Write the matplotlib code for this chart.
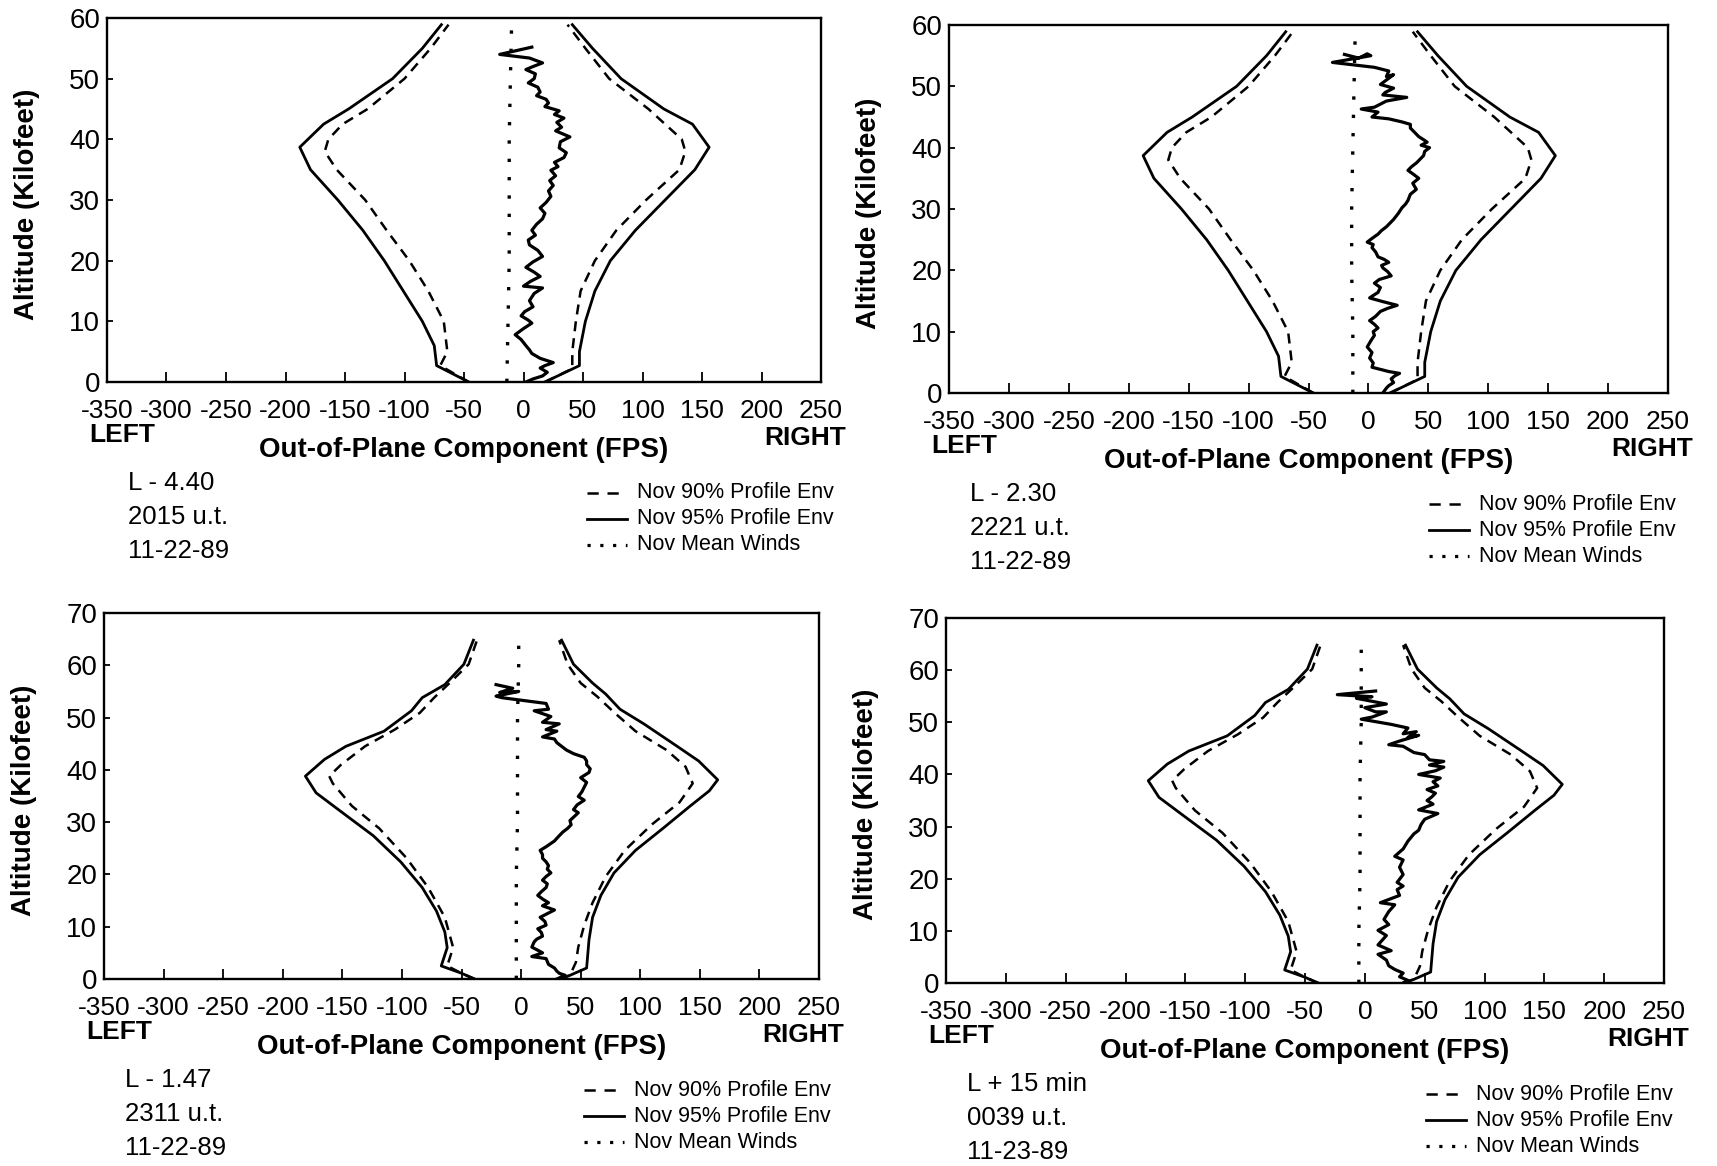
import matplotlib.pyplot as plt
from matplotlib.lines import Line2D

W, H = 1717, 1166
FONT = ['Liberation Sans', 'DejaVu Sans']

# November envelopes, 60 kft panels (altitude kft, wind fps)
env60_sl_alt = [0, 2.7, 6, 10, 15, 20, 25, 30, 35, 38.7, 42.5, 45, 50, 55, 58.9]
env60_sl_x = [-46, -73, -75, -85, -101, -117, -135, -156, -179, -188, -168, -147, -110, -85, -69]
env60_dl_alt = [0, 2.7, 5, 10, 15, 20, 25, 30, 35, 38, 40, 42.5, 45, 50, 55, 58.9]
env60_dl_x = [-46, -70, -64, -67, -80, -96, -115, -133, -157, -167, -164, -152, -131, -100, -78, -63]
env60_sr_alt = [0, 2.7, 5, 10, 15, 20, 25, 30, 35, 38.7, 42.5, 45, 50, 55, 58.9]
env60_sr_x = [18, 47, 47, 52, 60, 73, 94, 119, 144, 156, 142, 118, 82, 58, 41]
env60_dr_alt = [0, 2.2, 5, 10, 15, 20, 25, 30, 35, 38, 40, 45, 50, 55, 58.9]
env60_dr_x = [18, 41, 41, 44, 48, 60, 78, 103, 131, 136, 133, 105, 72, 52, 37]

# November envelopes, 70 kft panels
env70_sl_alt = [0, 1.1, 2.5, 6, 9, 13, 17.5, 22.4, 27.4, 32, 35.6, 38.8, 42, 44.5, 47.4, 51.3, 53.8, 56.3, 60.2, 64.8]
env70_sl_x = [-39, -50, -67, -62, -64, -71, -83, -101, -124, -151, -172, -181, -165, -147, -115, -92, -83, -64, -48, -40]
env70_dl_alt = [0, 1.1, 2.5, 6, 11.8, 17.5, 23.1, 28.8, 33.1, 37.4, 38.8, 41, 44.5, 47.7, 50.9, 53.8, 56.6, 60.2, 64.8]
env70_dl_x = [-39, -50, -62, -57, -64, -78, -96, -119, -142, -158, -161, -151, -131, -106, -85, -73, -60, -44, -37]
env70_sr_alt = [0, 0.7, 2.1, 7.5, 11.8, 16, 20.3, 24.6, 28.8, 33.1, 36, 38.1, 41.7, 44.5, 48.8, 51.6, 54.5, 56.6, 60.2, 64.8]
env70_sr_x = [32, 41, 55, 57, 60, 67, 78, 96, 119, 142, 158, 165, 149, 131, 103, 83, 71, 60, 44, 34]
env70_dr_alt = [0, 0.7, 3.2, 6.1, 10.3, 14.6, 19.6, 24.6, 29.6, 33.8, 37.4, 40.6, 43.8, 47.4, 51, 54, 56.6, 60.2, 64.8]
env70_dr_x = [32, 41, 46, 48, 53, 60, 71, 87, 110, 133, 144, 138, 122, 96, 78, 64, 50, 39, 32]

# November mean winds
mean60_alt = [0, 10, 20, 30, 40, 50, 58.9]
mean_tl_x = [-14, -13, -12, -12, -12, -11, -10]
mean_tr_x = [-13, -13, -14, -14, -13, -12, -11]
mean70_alt = [0, 10, 20, 30, 40, 50, 60, 65]
mean_bl_x = [-4, -4, -4, -3, -3, -3, -2, -2]
mean_br_x = [-5, -5, -4, -4, -4, -3, -3, -3]

# measured profiles
tl_alt = [55.2, 54.0, 53.4, 52.6, 52.0, 51.5, 50.8, 50.0, 49.3, 48.6, 47.8, 47.2, 46.6, 46.0, 45.4,
          44.7, 44.1, 43.5, 42.8, 42.0, 41.4, 40.4, 39.6, 38.6, 37.8, 37.0, 36.2, 35.5, 34.9, 34.0,
          33.2, 32.4, 31.5, 30.6, 29.6, 28.7, 27.8, 26.9, 26.0, 25.0, 24.2, 23.4, 22.6, 21.7, 20.7,
          19.8, 18.9, 18.1, 17.4, 16.6, 15.8, 15.5, 14.6, 13.4, 12.4, 11.6, 10.9, 10.2, 9.7, 8.8,
          7.8, 7.0, 6.0, 5.3, 4.7, 3.9, 3.2, 2.7, 2.3, 1.6, 1.0, 0.5, 0]
tl_x = [7, -20, 5, 16, 8, 2, 10, 9, 4, 12, 14, 11, 19, 21, 18,
        30, 26, 34, 28, 32, 27, 39, 31, 30, 36, 34, 26, 29, 23, 27,
        22, 25, 21, 23, 19, 14, 18, 16, 11, 7, 10, 4, 5, 12, 16,
        8, 2, 9, 14, 6, 0, 16, 9, 5, 8, 1, -2, 4, 7, 0,
        -7, -2, 2, 5, 7, 14, 25, 18, 14, 20, 16, 8, 2]

tr_alt = [55.2, 54.6, 55.3, 55.0, 53.9, 53.1, 52.5, 51.6, 51.9, 50.3, 49.7, 49.0, 48.6, 48.2, 47.6,
          46.6, 46.3, 45.8, 45.0, 44.7, 44.2, 43.8, 43.2, 42.6, 41.8, 41.3, 40.9, 40.4, 40.0, 39.4,
          38.7, 38.1, 37.5, 36.9, 36.3, 35.6, 35.0, 34.2, 33.2, 32.4, 31.4, 30.8, 30.2, 29.3, 28.3,
          27.7, 27.1, 26.5, 25.9, 25.2, 24.6, 24.2, 23.7, 23.0, 22.2, 21.8, 21.3, 20.8, 20.4, 19.8,
          19.1, 18.5, 17.9, 17.2, 16.4, 15.9, 15.5, 14.9, 14.3, 13.8, 13.3, 12.5, 11.8, 11.2, 10.6,
          10.0, 9.4, 8.5, 7.5, 6.6, 5.7, 4.9, 4.2, 3.5, 3.2, 2.8, 2.3, 1.7, 1.2, 0.8, 0]
tr_x = [-20, -8, -1, 2, -30, 5, 17, 15, 21, 10, 21, 14, 12, 32, 15,
        5, -6, 8, 3, 17, 28, 35, 35, 38, 42, 46, 49, 44, 51, 47,
        46, 43, 40, 36, 33, 38, 42, 37, 40, 35, 33, 31, 28, 25, 21,
        18, 15, 11, 8, 3, -1, 4, 3, 6, 8, 13, 17, 11, 12, 16,
        19, 9, 5, 10, 8, 4, 1, 12, 24, 16, 10, 6, 1, 5, 8,
        4, 5, 2, -1, 3, 1, 4, 3, 17, 26, 22, 19, 21, 17, 15, 12]

bl_alt = [56.3, 55.6, 54.8, 55.0, 54.1, 53.8, 52.7, 51.6, 51.3, 50.2, 49.1, 48.8, 47.7, 47.4, 46.3,
          45.9, 45.2, 44.5, 43.8, 43.1, 42.4, 41.7, 41.0, 40.2, 39.5, 38.5, 37.6, 36.7, 35.8, 34.9,
          34.2, 33.3, 32.4, 31.8, 30.3, 29.5, 28.8, 28.1, 27.4, 26.4, 25.3, 24.6, 23.8, 23.1, 22.4,
          21.7, 21.0, 20.3, 19.6, 18.9, 18.2, 17.5, 16.7, 16.0, 15.3, 14.6, 14.0, 13.2, 12.5, 11.8,
          11.0, 10.3, 9.6, 8.9, 8.2, 7.6, 7.1, 6.1, 5.5, 5.0, 4.3, 3.9, 2.8, 2.1, 1.5, 1.1, 0.7, 0]
bl_x = [-21, -7, -18, -2, -21, -16, 21, 23, 11, 25, 18, 32, 21, 30, 18,
        28, 30, 34, 38, 44, 53, 55, 55, 58, 57, 50, 55, 53, 51, 48,
        53, 47, 44, 48, 41, 42, 39, 35, 32, 28, 21, 16, 18, 18, 21,
        23, 22, 25, 21, 18, 22, 21, 17, 14, 18, 23, 18, 28, 22, 16,
        20, 21, 14, 17, 18, 13, 11, 9, 14, 18, 9, 21, 23, 28, 30, 32, 37, 30]

br_alt = [56.0, 55.3, 54.9, 54.6, 54.2, 53.5, 52.8, 52.0, 52.0, 51.0, 50.6, 49.6, 48.9, 47.8, 48.2,
          47.1, 47.5, 46.4, 45.7, 45.4, 44.2, 43.8, 42.8, 42.5, 41.8, 41.4, 40.7, 40.0, 39.3, 38.6,
          37.8, 37.1, 36.4, 35.7, 35.0, 34.3, 33.2, 32.5, 31.4, 30.4, 29.3, 28.6, 27.2, 25.7, 24.3,
          23.6, 22.2, 20.8, 19.3, 18.6, 17.9, 16.8, 15.4, 15.0, 13.7, 12.2, 11.2, 10.1, 9.1, 7.3,
          6.2, 5.5, 4.4, 3.3, 2.6, 1.9, 1.2, 0.5, 0]
br_x = [9, -23, 6, -7, 2, 18, 0, 9, 18, 6, -3, 22, 36, 32, 43,
        36, 45, 29, 20, 32, 41, 50, 54, 66, 54, 66, 59, 45, 63, 57,
        61, 52, 59, 56, 52, 57, 45, 61, 50, 47, 45, 41, 36, 32, 25,
        32, 29, 32, 27, 32, 27, 29, 13, 25, 20, 16, 20, 11, 18, 11,
        22, 11, 18, 20, 25, 32, 29, 36, 32]

x_ticks = [-350, -300, -250, -200, -150, -100, -50, 0, 50, 100, 150, 200, 250]
legend_labels = ['Nov 90% Profile Env', 'Nov 95% Profile Env', 'Nov Mean Winds']
info_texts = [['L - 4.40', '2015 u.t.', '11-22-89'],
              ['L - 2.30', '2221 u.t.', '11-22-89'],
              ['L - 1.47', '2311 u.t.', '11-22-89'],
              ['L + 15 min', '0039 u.t.', '11-23-89']]

# axes boxes in pixels: left, top, right, bottom
boxes = [(107, 18, 821, 382), (949, 25, 1668, 393), (104, 613, 819, 979), (946, 618, 1664, 983)]

fig = plt.figure(figsize=(W / 100, H / 100), dpi=100)


def fx(x):
    return x / W


def fy(y):
    return 1 - y / H


DASH = (0, (4, 2.8))
DOT = (0, (1, 4.5))

panels = [
    (env60_sl_alt, env60_sl_x, env60_dl_alt, env60_dl_x, env60_sr_alt, env60_sr_x, env60_dr_alt, env60_dr_x,
     mean60_alt, mean_tl_x, tl_alt, tl_x, 60),
    (env60_sl_alt, env60_sl_x, env60_dl_alt, env60_dl_x, env60_sr_alt, env60_sr_x, env60_dr_alt, env60_dr_x,
     mean60_alt, mean_tr_x, tr_alt, tr_x, 60),
    (env70_sl_alt, env70_sl_x, env70_dl_alt, env70_dl_x, env70_sr_alt, env70_sr_x, env70_dr_alt, env70_dr_x,
     mean70_alt, mean_bl_x, bl_alt, bl_x, 70),
    (env70_sl_alt, env70_sl_x, env70_dl_alt, env70_dl_x, env70_sr_alt, env70_sr_x, env70_dr_alt, env70_dr_x,
     mean70_alt, mean_br_x, br_alt, br_x, 70),
]

for i, p in enumerate(panels):
    sl_a, sl_x, dl_a, dl_x, sr_a, sr_x, dr_a, dr_x, m_a, m_x, pr_a, pr_x, ymax = p
    l, t, r, b = boxes[i]
    ax = fig.add_axes([fx(l), fy(b), (r - l) / W, (b - t) / H])

    ax.plot(sl_x, sl_a, color='black', lw=2.0)
    ax.plot(sr_x, sr_a, color='black', lw=2.0)
    ax.plot(dl_x, dl_a, color='black', lw=1.8, linestyle=DASH)
    ax.plot(dr_x, dr_a, color='black', lw=1.8, linestyle=DASH)
    ax.plot(m_x, m_a, color='black', lw=2.4, linestyle=DOT)
    ax.plot(pr_x, pr_a, color='black', lw=2.3)

    ax.set_xlim(-350, 250)
    ax.set_ylim(0, ymax)
    ax.set_xticks(x_ticks)
    ax.set_xticklabels([str(v) for v in x_ticks], family=FONT, fontsize=19)
    ax.set_yticks(range(0, ymax + 1, 10))
    ax.set_yticklabels([str(v) for v in range(0, ymax + 1, 10)], family=FONT, fontsize=20)
    ax.tick_params(axis='x', direction='in', length=7, width=1.3, pad=12)
    ax.tick_params(axis='y', direction='in', length=4, width=1.3, pad=5)
    for s in ax.spines.values():
        s.set_linewidth(1.7)

    fig.text(fx(l - 80), fy((t + b) / 2 + 4), 'Altitude (Kilofeet)', family=FONT, fontweight='bold',
             fontsize=20, rotation=90, ha='center', va='center')

    cx = (l + r) / 2
    fig.text(fx(cx), fy(b + 68), 'Out-of-Plane Component (FPS)', family=FONT, fontweight='bold',
             fontsize=20, ha='center', va='center')
    fig.text(fx(l - 18), fy(b + 53), 'LEFT', family=FONT, fontweight='bold', fontsize=19,
             ha='left', va='center')
    fig.text(fx(r + 25), fy(b + 56), 'RIGHT', family=FONT, fontweight='bold', fontsize=19,
             ha='right', va='center')

    for k, txt in enumerate(info_texts[i]):
        fig.text(fx(l + 21), fy(b + 101 + 34 * k), txt, family=FONT, fontsize=18.5, ha='left', va='center')

    styles = [dict(linestyle=(0, (4.5, 3.5)), lw=1.8), dict(linestyle='-', lw=2.0), dict(linestyle=(0, (1, 3)), lw=2.3)]
    for k, lab in enumerate(legend_labels):
        yy = fy(b + 111 + 26 * k)
        fig.add_artist(Line2D([fx(l + 480), fx(l + 520)], [yy, yy], color='black', transform=fig.transFigure,
                              **styles[k]))
        fig.text(fx(l + 530), yy, lab, family=FONT, fontsize=15.5, ha='left', va='center')

fig.savefig('out.png', dpi=100)
